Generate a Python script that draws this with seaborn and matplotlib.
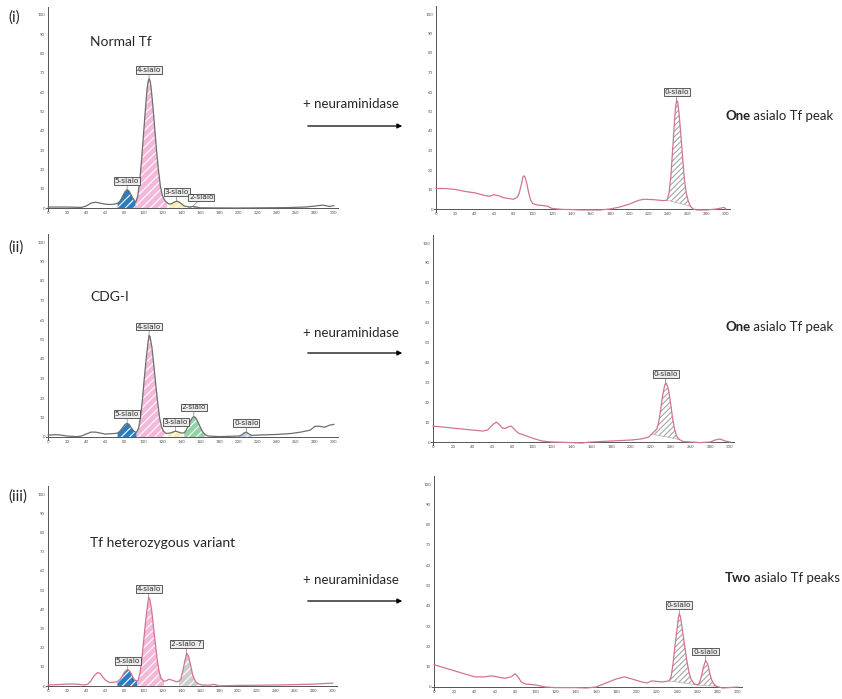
import numpy as np
import matplotlib.pyplot as plt
import seaborn as sns

# chromatogram traces: (retention, signal %)
i_left = [(0, 0.5), (20, 0.5), (35, 0.3), (40, 1), (45, 2.5), (50, 3), (55, 2.5), (60, 2),
          (65, 1.8), (70, 2), (73, 2.5), (75, 3.2), (77, 4.8), (79, 6.8), (81, 8.6), (83, 9.5),
          (85, 8.8), (87, 7), (89, 5), (91, 3.6), (92, 3), (94, 6), (96, 13), (98, 24), (100, 37),
          (102, 50), (104, 62), (105, 65.5), (106, 67), (107, 66), (108, 63), (110, 53),
          (112, 41), (114, 29), (116, 19), (118, 11), (120, 6.5), (123, 3.5), (127, 2), (130, 2.3),
          (133, 3.2), (135, 3.5), (137, 3.2), (140, 2.2), (143, 1), (148, 0.5), (152, 0.8),
          (156, 0.5), (160, 0.1), (200, 0), (250, 0.2), (270, 0.5), (280, 1), (288, 1.5),
          (295, 0.8), (300, 1.2)]
i_right = [(0, 10.5), (10, 10.5), (20, 10), (30, 9), (40, 8.3), (50, 7), (55, 6.5), (60, 7.3),
           (65, 6.8), (70, 5.8), (80, 5), (84, 6), (86, 8), (88, 12), (90, 16.5), (91, 17),
           (92, 16.5), (94, 13), (96, 8), (98, 4.5), (100, 2.8), (105, 2), (110, 1.8), (115, 1.5),
           (120, 0.3), (130, -0.2), (140, -0.3), (150, -0.5), (170, -0.5), (180, 0), (190, 1),
           (200, 2.5), (210, 4.5), (215, 5), (225, 4.8), (235, 4.3), (239, 4.5), (241, 8),
           (243, 17), (245, 32), (247, 47), (248, 53), (249, 55.5), (250, 55), (251, 51),
           (253, 40), (255, 27), (257, 15), (259, 8), (261, 4), (263, 1.5), (266, 0),
           (270, -0.5), (280, -0.5), (290, 0), (298, 0.8), (300, 0)]
ii_left = [(0, 1), (10, 1.2), (20, 0.5), (30, 0.2), (35, 0.5), (40, 1.5), (45, 2.5), (50, 2.5),
           (55, 2), (60, 1.5), (70, 1.8), (73, 2), (75, 2.8), (77, 4), (79, 5.3), (81, 6.5),
           (83, 7), (85, 6.5), (87, 5), (89, 3.6), (91, 2.6), (93, 2.5), (95, 4.5), (97, 10),
           (99, 19), (101, 30), (103, 40), (105, 49), (106, 52), (107, 51.5), (109, 46),
           (111, 37), (113, 27), (115, 18), (117, 10), (119, 5.5), (121, 3), (124, 1.8), (128, 2),
           (131, 2.5), (134, 3), (137, 2.5), (140, 2), (143, 2.2), (145, 3.5), (147, 5.5),
           (149, 7.8), (151, 9.6), (153, 10.5), (155, 9.8), (157, 8), (159, 5.8), (161, 3.8),
           (163, 2.2), (165, 1.2), (168, 0.5), (180, 0.2), (200, 0.5), (203, 1), (206, 2.2),
           (208, 2.5), (211, 1.5), (214, 0.8), (220, 1), (240, 1.3), (255, 1.8), (265, 2.5),
           (275, 3.5), (280, 5.5), (285, 5.5), (290, 5), (295, 6), (300, 6.5)]
ii_right = [(0, 8), (10, 7.5), (20, 7), (30, 6.5), (40, 6), (50, 5.5), (55, 6), (58, 7.5), (61, 9),
            (64, 10), (67, 8.8), (70, 7), (73, 6.8), (76, 7.6), (79, 8), (82, 6.5), (86, 4.5),
            (92, 3.5), (100, 2), (110, 0.5), (120, 0), (140, -0.3), (150, -0.5), (160, 0),
            (180, 0.5), (200, 1), (210, 1.5), (218, 2.5), (221, 4), (224, 5.5), (226, 6.5),
            (228, 10), (230, 16.5), (232, 23.5), (234, 28.5), (235, 29.5), (236, 29.2), (238, 26),
            (240, 19.5), (242, 12), (244, 6.5), (246, 3), (249, 1.2), (253, 0.2), (260, 0),
            (270, -0.3), (280, 0), (285, 1), (290, 1.5), (295, 0.5), (300, 0)]
iii_left = [(0, 0.5), (20, 1), (30, 1), (38, 0.5), (42, 1), (45, 2.5), (48, 5), (52, 7), (55, 6.5),
            (58, 4.5), (61, 2.8), (65, 1.8), (70, 2), (73, 2.2), (76, 3.5), (78, 5), (80, 6.8),
            (82, 8), (84, 8.5), (86, 7.8), (88, 6), (90, 4), (92, 2.8), (94, 2.7), (95, 3),
            (97, 7.5), (99, 15), (101, 25), (103, 35), (105, 43), (106, 46), (107, 45.5), (109, 40),
            (111, 31), (113, 22), (115, 13.5), (117, 7.5), (119, 4), (122, 2.5), (125, 2.8),
            (127, 3.5), (131, 3), (135, 2.2), (138, 2.5), (140, 4), (142, 8), (144, 13),
            (146, 17), (148, 15.5), (150, 11), (152, 6.5), (154, 3.5), (156, 2), (158, 1.2),
            (162, 0.5), (170, 0.5), (175, 0.8), (180, 0.1), (200, 0.3), (240, 0.5), (280, 1),
            (300, 1.5)]
iii_right = [(0, 11), (10, 9.5), (20, 8), (30, 6.5), (40, 5), (50, 5), (57, 5.5), (62, 5),
             (70, 4.3), (76, 5), (80, 6.5), (83, 5), (86, 2.5), (90, 1.5), (100, 1), (110, 0),
             (120, -0.3), (140, -0.3), (150, -0.5), (160, 0), (170, 2), (180, 4), (188, 5),
             (195, 4), (205, 2.5), (210, 2), (215, 3), (225, 2.5), (232, 3), (234, 5), (236, 12),
             (238, 21), (240, 29), (241, 33.5), (242, 36), (243, 35), (244, 32), (246, 25),
             (248, 18), (250, 11.5), (252, 6.5), (254, 3.5), (257, 1.5), (260, 1), (262, 2),
             (264, 5.5), (266, 10), (268, 13), (270, 11.5), (272, 7), (274, 3.5), (276, 1.5),
             (279, 0.3), (285, -0.5), (300, 0)]

# labelled peaks: (name, start, end)
i_left_peaks = [("5-sialo", 73, 92), ("4-sialo", 92, 125), ("3-sialo", 127, 145), ("2-sialo", 147, 158)]
i_right_peaks = [("0-sialo", 239, 263)]
ii_left_peaks = [("5-sialo", 73, 93), ("4-sialo", 93, 122), ("3-sialo", 126, 142),
                 ("2-sialo", 143, 166), ("0-sialo", 200, 214)]
ii_right_peaks = [("0-sialo", 221, 249)]
iii_left_peaks = [("5-sialo", 73, 94), ("4-sialo", 94, 122), ("2-sialo ?", 138, 158)]
iii_right_peaks = [("0-sialo", 232, 260), ("0-sialo", 260, 279)]

row_tags = ["(i)", "(ii)", "(iii)"]
row_titles = ["Normal Tf", "CDG-I", "Tf heterozygous variant"]
treatment = "+ neuraminidase"
result_bold = ["One", "One", "Two"]
result_rest = [" asialo Tf peak", " asialo Tf peak", " asialo Tf peaks"]

# styles
peak_colors = {"5-sialo": "#2b7cc2", "4-sialo": "#f4b8d8", "3-sialo": "#f7efb4",
               "2-sialo": "#93d3a8", "0-sialo": "#b3cfec", "2-sialo ?": "#cdcdcd"}
TRACE_GRAY = "#6e6e6e"
TRACE_PINK = "#d27494"
W, H = 842, 699

sns.set_style("white")
plt.rcParams["font.family"] = ["Lato", "DejaVu Sans"]
plt.rcParams["hatch.linewidth"] = 0.8

fig = plt.figure(figsize=(W / 100, H / 100), dpi=100)


def make_axes(x0, x300, y0, y100):
    # pixel positions of x=0, x=300, y=0, y=100
    sx = (x300 - x0) / 300
    sy = (y0 - y100) / 100
    left = x0 - 2 * sx
    bottom = y0 + 1.5 * sy
    top = y0 - 104 * sy
    ax = fig.add_axes([left / W, 1 - bottom / H, 306 * sx / W, (bottom - top) / H])
    ax.set_xlim(-2, 304)
    ax.set_ylim(-1.5, 104)
    ax.patch.set_alpha(0)
    for s in ["top", "right"]:
        ax.spines[s].set_visible(False)
    ax.spines["left"].set_position(("data", 0))
    ax.spines["bottom"].set_position(("data", 0))
    for s in ["left", "bottom"]:
        ax.spines[s].set_color("#555555")
        ax.spines[s].set_linewidth(0.7)
    ax.set_xticks(np.arange(0, 301, 20))
    ax.set_yticks(np.arange(0, 101, 10))
    ax.tick_params(labelsize=3.2, labelcolor="#555555", color="#555555", length=2,
                   width=0.5, pad=1, direction="inout")
    return ax


def draw_panel(ax, trace, peaks, line_color, right_side, label_dx=None):
    pts = np.array(trace, dtype=float)
    x, y = pts[:, 0], pts[:, 1]
    for k, (name, a, b) in enumerate(peaks):
        xs = np.concatenate([[a], x[(x > a) & (x < b)], [b]])
        ys = np.interp(xs, x, y)
        if right_side:
            base = np.interp(xs, [a, b], [ys[0], ys[-1]])
            ax.fill_between(xs, base, ys, facecolor="white", edgecolor="#a6a6a6",
                            hatch="//////", linewidth=0, zorder=1)
            ax.plot([a, b], [ys[0], ys[-1]], color="#b0b0b0", lw=0.5, zorder=1)
        else:
            ax.fill_between(xs, 0, ys, facecolor=peak_colors[name], edgecolor="white",
                            hatch="////", linewidth=0, zorder=1)
        i_top = np.argmax(ys)
        dx = label_dx[k] if label_dx else 0
        ax.annotate(name, xy=(xs[i_top], ys[i_top]), xytext=(dx, 6.5),
                    textcoords="offset points", ha="center", va="center",
                    fontsize=5.3, color="#333333", family="DejaVu Sans",
                    bbox=dict(boxstyle="square,pad=0.12", fc="#ececec", ec="#444444", lw=0.6),
                    arrowprops=dict(arrowstyle="-", color="#666666", lw=0.4, shrinkA=0, shrinkB=0),
                    zorder=4)
    sns.lineplot(x=x, y=y, ax=ax, color=line_color, linewidth=0.9, zorder=3)


rows = [
    ((48, 334, 208, 15), i_left, i_left_peaks, TRACE_GRAY, [0, 0, 0, 6],
     (436, 726, 209, 14), i_right, i_right_peaks),
    ((48, 334, 437, 242), ii_left, ii_left_peaks, TRACE_GRAY, None,
     (433, 730, 442, 243), ii_right, ii_right_peaks),
    ((48, 333, 686, 494), iii_left, iii_left_peaks, TRACE_PINK, None,
     (434, 738, 687, 484), iii_right, iii_right_peaks),
]
for lpos, ltrace, lpeaks, lcol, ldx, rpos, rtrace, rpeaks in rows:
    axl = make_axes(*lpos)
    draw_panel(axl, ltrace, lpeaks, lcol, False, ldx)
    axr = make_axes(*rpos)
    draw_panel(axr, rtrace, rpeaks, TRACE_PINK, True)

# overlay in pixel coordinates for the annotations
ov = fig.add_axes([0, 0, 1, 1])
ov.set_xlim(0, W)
ov.set_ylim(H, 0)
ov.axis("off")
ov.patch.set_alpha(0)

tag_y = [18, 248, 497]
title_y = [42, 297, 543]
treat_y = [104, 333, 580]
arrow_y = [126, 353, 601]
result_y = [116, 327, 578]
for r in range(3):
    ov.text(8, tag_y[r], row_tags[r], fontsize=11, va="center", ha="left")
    ov.text(90, title_y[r], row_titles[r], fontsize=10, va="center", ha="left")
    ov.text(303, treat_y[r], treatment, fontsize=9.5, va="center", ha="left")
    ov.annotate("", xy=(405, arrow_y[r]), xytext=(305, arrow_y[r]),
                arrowprops=dict(arrowstyle="-|>", color="black", lw=0.9, mutation_scale=7))
    t1 = ov.text(725, result_y[r], result_bold[r], fontsize=9.5, fontweight="bold",
                 va="center", ha="left")
    ov.annotate(result_rest[r], xy=(1, 0), xycoords=t1, fontsize=9.5, va="bottom", ha="left")

fig.savefig("out.png", dpi=100)
